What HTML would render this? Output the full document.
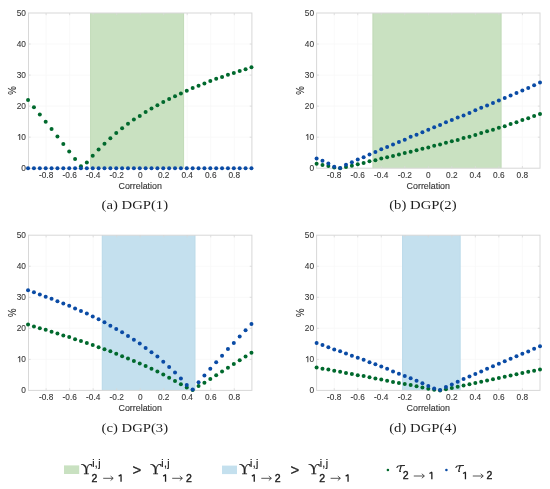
<!DOCTYPE html>
<html><head><meta charset="utf-8"><title>DGP figure</title>
<style>
html,body{margin:0;padding:0;background:#fff;}
body{width:550px;height:489px;overflow:hidden;position:relative;}
svg{position:absolute;left:0;top:0;will-change:transform;}
.tk{font-family:"Liberation Sans",sans-serif;font-size:8.3px;fill:#333333;stroke:#333333;stroke-width:0.08px;}
.lb{font-family:"Liberation Sans",sans-serif;font-size:8.9px;fill:#333333;stroke:#333333;stroke-width:0.12px;}
.cap{font-family:"Liberation Serif",serif;font-size:12.9px;fill:#1e1e1e;}
.lg{font-family:"Liberation Sans",sans-serif;fill:#222;}
.ls{font-family:"Liberation Serif",serif;fill:#222;}
</style></head>
<body>
<svg width="550" height="489" viewBox="0 0 550 489">
<line x1="46.14" y1="13" x2="46.14" y2="168.2" stroke="#f8f8f8" stroke-width="0.8"/>
<line x1="69.65" y1="13" x2="69.65" y2="168.2" stroke="#f8f8f8" stroke-width="0.8"/>
<line x1="93.17" y1="13" x2="93.17" y2="168.2" stroke="#f8f8f8" stroke-width="0.8"/>
<line x1="116.68" y1="13" x2="116.68" y2="168.2" stroke="#f8f8f8" stroke-width="0.8"/>
<line x1="140.2" y1="13" x2="140.2" y2="168.2" stroke="#f8f8f8" stroke-width="0.8"/>
<line x1="163.72" y1="13" x2="163.72" y2="168.2" stroke="#f8f8f8" stroke-width="0.8"/>
<line x1="187.23" y1="13" x2="187.23" y2="168.2" stroke="#f8f8f8" stroke-width="0.8"/>
<line x1="210.75" y1="13" x2="210.75" y2="168.2" stroke="#f8f8f8" stroke-width="0.8"/>
<line x1="234.26" y1="13" x2="234.26" y2="168.2" stroke="#f8f8f8" stroke-width="0.8"/>
<line x1="28.5" y1="137.16" x2="251.9" y2="137.16" stroke="#f8f8f8" stroke-width="0.8"/>
<line x1="28.5" y1="106.12" x2="251.9" y2="106.12" stroke="#f8f8f8" stroke-width="0.8"/>
<line x1="28.5" y1="75.08" x2="251.9" y2="75.08" stroke="#f8f8f8" stroke-width="0.8"/>
<line x1="28.5" y1="44.04" x2="251.9" y2="44.04" stroke="#f8f8f8" stroke-width="0.8"/>
<rect x="90" y="13" width="94.1" height="155.2" fill="#c9e1c1"/>
<line x1="90.6" y1="13" x2="90.6" y2="168.2" stroke="#c1dbb9" stroke-width="0.8"/>
<line x1="183.5" y1="13" x2="183.5" y2="168.2" stroke="#c1dbb9" stroke-width="0.8"/>
<rect x="28.5" y="13" width="223.4" height="155.2" fill="none" stroke="#d8d8d8" stroke-width="1"/>
<line x1="46.14" y1="168.2" x2="46.14" y2="166" stroke="#d8d8d8" stroke-width="0.8"/>
<line x1="46.14" y1="13" x2="46.14" y2="15.2" stroke="#d8d8d8" stroke-width="0.8"/>
<line x1="69.65" y1="168.2" x2="69.65" y2="166" stroke="#d8d8d8" stroke-width="0.8"/>
<line x1="69.65" y1="13" x2="69.65" y2="15.2" stroke="#d8d8d8" stroke-width="0.8"/>
<line x1="93.17" y1="168.2" x2="93.17" y2="166" stroke="#d8d8d8" stroke-width="0.8"/>
<line x1="93.17" y1="13" x2="93.17" y2="15.2" stroke="#d8d8d8" stroke-width="0.8"/>
<line x1="116.68" y1="168.2" x2="116.68" y2="166" stroke="#d8d8d8" stroke-width="0.8"/>
<line x1="116.68" y1="13" x2="116.68" y2="15.2" stroke="#d8d8d8" stroke-width="0.8"/>
<line x1="140.2" y1="168.2" x2="140.2" y2="166" stroke="#d8d8d8" stroke-width="0.8"/>
<line x1="140.2" y1="13" x2="140.2" y2="15.2" stroke="#d8d8d8" stroke-width="0.8"/>
<line x1="163.72" y1="168.2" x2="163.72" y2="166" stroke="#d8d8d8" stroke-width="0.8"/>
<line x1="163.72" y1="13" x2="163.72" y2="15.2" stroke="#d8d8d8" stroke-width="0.8"/>
<line x1="187.23" y1="168.2" x2="187.23" y2="166" stroke="#d8d8d8" stroke-width="0.8"/>
<line x1="187.23" y1="13" x2="187.23" y2="15.2" stroke="#d8d8d8" stroke-width="0.8"/>
<line x1="210.75" y1="168.2" x2="210.75" y2="166" stroke="#d8d8d8" stroke-width="0.8"/>
<line x1="210.75" y1="13" x2="210.75" y2="15.2" stroke="#d8d8d8" stroke-width="0.8"/>
<line x1="234.26" y1="168.2" x2="234.26" y2="166" stroke="#d8d8d8" stroke-width="0.8"/>
<line x1="234.26" y1="13" x2="234.26" y2="15.2" stroke="#d8d8d8" stroke-width="0.8"/>
<line x1="28.5" y1="137.16" x2="30.7" y2="137.16" stroke="#d8d8d8" stroke-width="0.8"/>
<line x1="251.9" y1="137.16" x2="249.7" y2="137.16" stroke="#d8d8d8" stroke-width="0.8"/>
<line x1="28.5" y1="106.12" x2="30.7" y2="106.12" stroke="#d8d8d8" stroke-width="0.8"/>
<line x1="251.9" y1="106.12" x2="249.7" y2="106.12" stroke="#d8d8d8" stroke-width="0.8"/>
<line x1="28.5" y1="75.08" x2="30.7" y2="75.08" stroke="#d8d8d8" stroke-width="0.8"/>
<line x1="251.9" y1="75.08" x2="249.7" y2="75.08" stroke="#d8d8d8" stroke-width="0.8"/>
<line x1="28.5" y1="44.04" x2="30.7" y2="44.04" stroke="#d8d8d8" stroke-width="0.8"/>
<line x1="251.9" y1="44.04" x2="249.7" y2="44.04" stroke="#d8d8d8" stroke-width="0.8"/>
<circle cx="28.05" cy="99.91" r="2" fill="#00692d"/>
<circle cx="33.93" cy="107.36" r="2" fill="#00692d"/>
<circle cx="39.81" cy="114.5" r="2" fill="#00692d"/>
<circle cx="45.69" cy="121.64" r="2" fill="#00692d"/>
<circle cx="51.57" cy="129.09" r="2" fill="#00692d"/>
<circle cx="57.44" cy="136.54" r="2" fill="#00692d"/>
<circle cx="63.32" cy="143.99" r="2" fill="#00692d"/>
<circle cx="69.2" cy="151.44" r="2" fill="#00692d"/>
<circle cx="75.08" cy="158.89" r="2" fill="#00692d"/>
<circle cx="80.96" cy="166.21" r="2" fill="#00692d"/>
<circle cx="86.84" cy="162.61" r="2" fill="#00692d"/>
<circle cx="92.72" cy="155.78" r="2" fill="#00692d"/>
<circle cx="98.6" cy="149.58" r="2" fill="#00692d"/>
<circle cx="104.48" cy="143.68" r="2" fill="#00692d"/>
<circle cx="110.36" cy="138.25" r="2" fill="#00692d"/>
<circle cx="116.23" cy="133.12" r="2" fill="#00692d"/>
<circle cx="122.11" cy="128.16" r="2" fill="#00692d"/>
<circle cx="127.99" cy="123.81" r="2" fill="#00692d"/>
<circle cx="133.87" cy="119.47" r="2" fill="#00692d"/>
<circle cx="139.75" cy="116.05" r="2" fill="#00692d"/>
<circle cx="145.63" cy="112.02" r="2" fill="#00692d"/>
<circle cx="151.51" cy="108.6" r="2" fill="#00692d"/>
<circle cx="157.39" cy="105.19" r="2" fill="#00692d"/>
<circle cx="163.27" cy="102.08" r="2" fill="#00692d"/>
<circle cx="169.14" cy="98.98" r="2" fill="#00692d"/>
<circle cx="175.02" cy="96.19" r="2" fill="#00692d"/>
<circle cx="180.9" cy="93.39" r="2" fill="#00692d"/>
<circle cx="186.78" cy="90.76" r="2" fill="#00692d"/>
<circle cx="192.66" cy="88.12" r="2" fill="#00692d"/>
<circle cx="198.54" cy="85.63" r="2" fill="#00692d"/>
<circle cx="204.42" cy="83.46" r="2" fill="#00692d"/>
<circle cx="210.3" cy="80.98" r="2" fill="#00692d"/>
<circle cx="216.18" cy="78.8" r="2" fill="#00692d"/>
<circle cx="222.06" cy="76.94" r="2" fill="#00692d"/>
<circle cx="227.93" cy="74.77" r="2" fill="#00692d"/>
<circle cx="233.81" cy="72.91" r="2" fill="#00692d"/>
<circle cx="239.69" cy="71.04" r="2" fill="#00692d"/>
<circle cx="245.57" cy="69.18" r="2" fill="#00692d"/>
<circle cx="251.45" cy="67.32" r="2" fill="#00692d"/>
<circle cx="28.05" cy="168.2" r="2" fill="#0a4ba5"/>
<circle cx="33.93" cy="168.2" r="2" fill="#0a4ba5"/>
<circle cx="39.81" cy="168.2" r="2" fill="#0a4ba5"/>
<circle cx="45.69" cy="168.2" r="2" fill="#0a4ba5"/>
<circle cx="51.57" cy="168.2" r="2" fill="#0a4ba5"/>
<circle cx="57.44" cy="168.2" r="2" fill="#0a4ba5"/>
<circle cx="63.32" cy="168.2" r="2" fill="#0a4ba5"/>
<circle cx="69.2" cy="168.2" r="2" fill="#0a4ba5"/>
<circle cx="75.08" cy="168.2" r="2" fill="#0a4ba5"/>
<circle cx="80.96" cy="168.2" r="2" fill="#0a4ba5"/>
<circle cx="86.84" cy="168.2" r="2" fill="#0a4ba5"/>
<circle cx="92.72" cy="168.2" r="2" fill="#0a4ba5"/>
<circle cx="98.6" cy="168.2" r="2" fill="#0a4ba5"/>
<circle cx="104.48" cy="168.2" r="2" fill="#0a4ba5"/>
<circle cx="110.36" cy="168.2" r="2" fill="#0a4ba5"/>
<circle cx="116.23" cy="168.2" r="2" fill="#0a4ba5"/>
<circle cx="122.11" cy="168.2" r="2" fill="#0a4ba5"/>
<circle cx="127.99" cy="168.2" r="2" fill="#0a4ba5"/>
<circle cx="133.87" cy="168.2" r="2" fill="#0a4ba5"/>
<circle cx="139.75" cy="168.2" r="2" fill="#0a4ba5"/>
<circle cx="145.63" cy="168.2" r="2" fill="#0a4ba5"/>
<circle cx="151.51" cy="168.2" r="2" fill="#0a4ba5"/>
<circle cx="157.39" cy="168.2" r="2" fill="#0a4ba5"/>
<circle cx="163.27" cy="168.2" r="2" fill="#0a4ba5"/>
<circle cx="169.14" cy="168.2" r="2" fill="#0a4ba5"/>
<circle cx="175.02" cy="168.2" r="2" fill="#0a4ba5"/>
<circle cx="180.9" cy="168.2" r="2" fill="#0a4ba5"/>
<circle cx="186.78" cy="168.2" r="2" fill="#0a4ba5"/>
<circle cx="192.66" cy="168.2" r="2" fill="#0a4ba5"/>
<circle cx="198.54" cy="168.2" r="2" fill="#0a4ba5"/>
<circle cx="204.42" cy="168.2" r="2" fill="#0a4ba5"/>
<circle cx="210.3" cy="168.2" r="2" fill="#0a4ba5"/>
<circle cx="216.18" cy="168.2" r="2" fill="#0a4ba5"/>
<circle cx="222.06" cy="168.2" r="2" fill="#0a4ba5"/>
<circle cx="227.93" cy="168.2" r="2" fill="#0a4ba5"/>
<circle cx="233.81" cy="168.2" r="2" fill="#0a4ba5"/>
<circle cx="239.69" cy="168.2" r="2" fill="#0a4ba5"/>
<circle cx="245.57" cy="168.2" r="2" fill="#0a4ba5"/>
<circle cx="251.45" cy="168.2" r="2" fill="#0a4ba5"/>
<text x="25.9" y="171.05" class="tk" text-anchor="end">0</text>
<text x="25.9" y="140.01" class="tk" text-anchor="end">0</text>
<path d="M19.75 140.01 V134.46 M20.05 134.26 L17.85 135.56" fill="none" stroke="#333333" stroke-width="0.95" stroke-linejoin="round"/>
<text x="25.9" y="108.97" class="tk" text-anchor="end">20</text>
<text x="25.9" y="77.93" class="tk" text-anchor="end">30</text>
<text x="25.9" y="46.89" class="tk" text-anchor="end">40</text>
<text x="25.9" y="15.85" class="tk" text-anchor="end">50</text>
<text x="46.14" y="178.2" class="tk" text-anchor="middle">-0.8</text>
<text x="69.65" y="178.2" class="tk" text-anchor="middle">-0.6</text>
<text x="93.17" y="178.2" class="tk" text-anchor="middle">-0.4</text>
<text x="116.68" y="178.2" class="tk" text-anchor="middle">-0.2</text>
<text x="140.2" y="178.2" class="tk" text-anchor="middle">0</text>
<text x="163.72" y="178.2" class="tk" text-anchor="middle">0.2</text>
<text x="187.23" y="178.2" class="tk" text-anchor="middle">0.4</text>
<text x="210.75" y="178.2" class="tk" text-anchor="middle">0.6</text>
<text x="234.26" y="178.2" class="tk" text-anchor="middle">0.8</text>
<text x="140.2" y="188.7" class="lb" text-anchor="middle">Correlation</text>
<text class="lb" text-anchor="middle" style="font-size:9.6px" transform="translate(15.6,90.6) rotate(-90) scale(1,1.1)">%</text>
<text class="cap" text-anchor="middle" transform="translate(134.8,209.4) scale(1.14,1)">(a) DGP(1)</text>
<line x1="334.24" y1="13" x2="334.24" y2="168.2" stroke="#f8f8f8" stroke-width="0.8"/>
<line x1="357.75" y1="13" x2="357.75" y2="168.2" stroke="#f8f8f8" stroke-width="0.8"/>
<line x1="381.27" y1="13" x2="381.27" y2="168.2" stroke="#f8f8f8" stroke-width="0.8"/>
<line x1="404.78" y1="13" x2="404.78" y2="168.2" stroke="#f8f8f8" stroke-width="0.8"/>
<line x1="428.3" y1="13" x2="428.3" y2="168.2" stroke="#f8f8f8" stroke-width="0.8"/>
<line x1="451.82" y1="13" x2="451.82" y2="168.2" stroke="#f8f8f8" stroke-width="0.8"/>
<line x1="475.33" y1="13" x2="475.33" y2="168.2" stroke="#f8f8f8" stroke-width="0.8"/>
<line x1="498.85" y1="13" x2="498.85" y2="168.2" stroke="#f8f8f8" stroke-width="0.8"/>
<line x1="522.36" y1="13" x2="522.36" y2="168.2" stroke="#f8f8f8" stroke-width="0.8"/>
<line x1="316.6" y1="137.16" x2="540" y2="137.16" stroke="#f8f8f8" stroke-width="0.8"/>
<line x1="316.6" y1="106.12" x2="540" y2="106.12" stroke="#f8f8f8" stroke-width="0.8"/>
<line x1="316.6" y1="75.08" x2="540" y2="75.08" stroke="#f8f8f8" stroke-width="0.8"/>
<line x1="316.6" y1="44.04" x2="540" y2="44.04" stroke="#f8f8f8" stroke-width="0.8"/>
<rect x="372.5" y="13" width="129" height="155.2" fill="#c9e1c1"/>
<line x1="373.1" y1="13" x2="373.1" y2="168.2" stroke="#c1dbb9" stroke-width="0.8"/>
<line x1="500.9" y1="13" x2="500.9" y2="168.2" stroke="#c1dbb9" stroke-width="0.8"/>
<rect x="316.6" y="13" width="223.4" height="155.2" fill="none" stroke="#d8d8d8" stroke-width="1"/>
<line x1="334.24" y1="168.2" x2="334.24" y2="166" stroke="#d8d8d8" stroke-width="0.8"/>
<line x1="334.24" y1="13" x2="334.24" y2="15.2" stroke="#d8d8d8" stroke-width="0.8"/>
<line x1="357.75" y1="168.2" x2="357.75" y2="166" stroke="#d8d8d8" stroke-width="0.8"/>
<line x1="357.75" y1="13" x2="357.75" y2="15.2" stroke="#d8d8d8" stroke-width="0.8"/>
<line x1="381.27" y1="168.2" x2="381.27" y2="166" stroke="#d8d8d8" stroke-width="0.8"/>
<line x1="381.27" y1="13" x2="381.27" y2="15.2" stroke="#d8d8d8" stroke-width="0.8"/>
<line x1="404.78" y1="168.2" x2="404.78" y2="166" stroke="#d8d8d8" stroke-width="0.8"/>
<line x1="404.78" y1="13" x2="404.78" y2="15.2" stroke="#d8d8d8" stroke-width="0.8"/>
<line x1="428.3" y1="168.2" x2="428.3" y2="166" stroke="#d8d8d8" stroke-width="0.8"/>
<line x1="428.3" y1="13" x2="428.3" y2="15.2" stroke="#d8d8d8" stroke-width="0.8"/>
<line x1="451.82" y1="168.2" x2="451.82" y2="166" stroke="#d8d8d8" stroke-width="0.8"/>
<line x1="451.82" y1="13" x2="451.82" y2="15.2" stroke="#d8d8d8" stroke-width="0.8"/>
<line x1="475.33" y1="168.2" x2="475.33" y2="166" stroke="#d8d8d8" stroke-width="0.8"/>
<line x1="475.33" y1="13" x2="475.33" y2="15.2" stroke="#d8d8d8" stroke-width="0.8"/>
<line x1="498.85" y1="168.2" x2="498.85" y2="166" stroke="#d8d8d8" stroke-width="0.8"/>
<line x1="498.85" y1="13" x2="498.85" y2="15.2" stroke="#d8d8d8" stroke-width="0.8"/>
<line x1="522.36" y1="168.2" x2="522.36" y2="166" stroke="#d8d8d8" stroke-width="0.8"/>
<line x1="522.36" y1="13" x2="522.36" y2="15.2" stroke="#d8d8d8" stroke-width="0.8"/>
<line x1="316.6" y1="137.16" x2="318.8" y2="137.16" stroke="#d8d8d8" stroke-width="0.8"/>
<line x1="540" y1="137.16" x2="537.8" y2="137.16" stroke="#d8d8d8" stroke-width="0.8"/>
<line x1="316.6" y1="106.12" x2="318.8" y2="106.12" stroke="#d8d8d8" stroke-width="0.8"/>
<line x1="540" y1="106.12" x2="537.8" y2="106.12" stroke="#d8d8d8" stroke-width="0.8"/>
<line x1="316.6" y1="75.08" x2="318.8" y2="75.08" stroke="#d8d8d8" stroke-width="0.8"/>
<line x1="540" y1="75.08" x2="537.8" y2="75.08" stroke="#d8d8d8" stroke-width="0.8"/>
<line x1="316.6" y1="44.04" x2="318.8" y2="44.04" stroke="#d8d8d8" stroke-width="0.8"/>
<line x1="540" y1="44.04" x2="537.8" y2="44.04" stroke="#d8d8d8" stroke-width="0.8"/>
<circle cx="316.6" cy="163.7" r="2" fill="#00692d"/>
<circle cx="322.48" cy="165.1" r="2" fill="#00692d"/>
<circle cx="328.36" cy="166.03" r="2" fill="#00692d"/>
<circle cx="334.24" cy="167.42" r="2" fill="#00692d"/>
<circle cx="340.12" cy="168.2" r="2" fill="#00692d"/>
<circle cx="345.99" cy="166.96" r="2" fill="#00692d"/>
<circle cx="351.87" cy="165.72" r="2" fill="#00692d"/>
<circle cx="357.75" cy="164.16" r="2" fill="#00692d"/>
<circle cx="363.63" cy="162.92" r="2" fill="#00692d"/>
<circle cx="369.51" cy="161.37" r="2" fill="#00692d"/>
<circle cx="375.39" cy="160.13" r="2" fill="#00692d"/>
<circle cx="381.27" cy="158.58" r="2" fill="#00692d"/>
<circle cx="387.15" cy="157.34" r="2" fill="#00692d"/>
<circle cx="393.03" cy="156.09" r="2" fill="#00692d"/>
<circle cx="398.91" cy="154.39" r="2" fill="#00692d"/>
<circle cx="404.78" cy="152.99" r="2" fill="#00692d"/>
<circle cx="410.66" cy="151.75" r="2" fill="#00692d"/>
<circle cx="416.54" cy="150.2" r="2" fill="#00692d"/>
<circle cx="422.42" cy="148.64" r="2" fill="#00692d"/>
<circle cx="428.3" cy="147.4" r="2" fill="#00692d"/>
<circle cx="434.18" cy="145.85" r="2" fill="#00692d"/>
<circle cx="440.06" cy="144.61" r="2" fill="#00692d"/>
<circle cx="445.94" cy="142.75" r="2" fill="#00692d"/>
<circle cx="451.82" cy="141.2" r="2" fill="#00692d"/>
<circle cx="457.69" cy="139.95" r="2" fill="#00692d"/>
<circle cx="463.57" cy="138.09" r="2" fill="#00692d"/>
<circle cx="469.45" cy="136.69" r="2" fill="#00692d"/>
<circle cx="475.33" cy="134.99" r="2" fill="#00692d"/>
<circle cx="481.21" cy="133.12" r="2" fill="#00692d"/>
<circle cx="487.09" cy="131.26" r="2" fill="#00692d"/>
<circle cx="492.97" cy="129.71" r="2" fill="#00692d"/>
<circle cx="498.85" cy="127.85" r="2" fill="#00692d"/>
<circle cx="504.73" cy="126.3" r="2" fill="#00692d"/>
<circle cx="510.61" cy="124.12" r="2" fill="#00692d"/>
<circle cx="516.48" cy="122.26" r="2" fill="#00692d"/>
<circle cx="522.36" cy="120.09" r="2" fill="#00692d"/>
<circle cx="528.24" cy="118.23" r="2" fill="#00692d"/>
<circle cx="534.12" cy="116.05" r="2" fill="#00692d"/>
<circle cx="540" cy="113.88" r="2" fill="#00692d"/>
<circle cx="316.6" cy="158.58" r="2" fill="#0a4ba5"/>
<circle cx="322.48" cy="160.75" r="2" fill="#0a4ba5"/>
<circle cx="328.36" cy="163.54" r="2" fill="#0a4ba5"/>
<circle cx="334.24" cy="166.65" r="2" fill="#0a4ba5"/>
<circle cx="340.12" cy="167.89" r="2" fill="#0a4ba5"/>
<circle cx="345.99" cy="164.79" r="2" fill="#0a4ba5"/>
<circle cx="351.87" cy="162.3" r="2" fill="#0a4ba5"/>
<circle cx="357.75" cy="159.51" r="2" fill="#0a4ba5"/>
<circle cx="363.63" cy="157.34" r="2" fill="#0a4ba5"/>
<circle cx="369.51" cy="154.54" r="2" fill="#0a4ba5"/>
<circle cx="375.39" cy="152.06" r="2" fill="#0a4ba5"/>
<circle cx="381.27" cy="149.27" r="2" fill="#0a4ba5"/>
<circle cx="387.15" cy="147.09" r="2" fill="#0a4ba5"/>
<circle cx="393.03" cy="144.45" r="2" fill="#0a4ba5"/>
<circle cx="398.91" cy="141.97" r="2" fill="#0a4ba5"/>
<circle cx="404.78" cy="139.64" r="2" fill="#0a4ba5"/>
<circle cx="410.66" cy="136.85" r="2" fill="#0a4ba5"/>
<circle cx="416.54" cy="134.68" r="2" fill="#0a4ba5"/>
<circle cx="422.42" cy="132.19" r="2" fill="#0a4ba5"/>
<circle cx="428.3" cy="129.71" r="2" fill="#0a4ba5"/>
<circle cx="434.18" cy="127.23" r="2" fill="#0a4ba5"/>
<circle cx="440.06" cy="125.05" r="2" fill="#0a4ba5"/>
<circle cx="445.94" cy="122.26" r="2" fill="#0a4ba5"/>
<circle cx="451.82" cy="120.09" r="2" fill="#0a4ba5"/>
<circle cx="457.69" cy="117.6" r="2" fill="#0a4ba5"/>
<circle cx="463.57" cy="115.43" r="2" fill="#0a4ba5"/>
<circle cx="469.45" cy="112.95" r="2" fill="#0a4ba5"/>
<circle cx="475.33" cy="110.16" r="2" fill="#0a4ba5"/>
<circle cx="481.21" cy="107.67" r="2" fill="#0a4ba5"/>
<circle cx="487.09" cy="105.5" r="2" fill="#0a4ba5"/>
<circle cx="492.97" cy="103.02" r="2" fill="#0a4ba5"/>
<circle cx="498.85" cy="100.53" r="2" fill="#0a4ba5"/>
<circle cx="504.73" cy="98.05" r="2" fill="#0a4ba5"/>
<circle cx="510.61" cy="95.57" r="2" fill="#0a4ba5"/>
<circle cx="516.48" cy="93.08" r="2" fill="#0a4ba5"/>
<circle cx="522.36" cy="90.6" r="2" fill="#0a4ba5"/>
<circle cx="528.24" cy="88.12" r="2" fill="#0a4ba5"/>
<circle cx="534.12" cy="85.32" r="2" fill="#0a4ba5"/>
<circle cx="540" cy="82.53" r="2" fill="#0a4ba5"/>
<text x="314" y="171.05" class="tk" text-anchor="end">0</text>
<text x="314" y="140.01" class="tk" text-anchor="end">0</text>
<path d="M307.85 140.01 V134.46 M308.15 134.26 L305.95 135.56" fill="none" stroke="#333333" stroke-width="0.95" stroke-linejoin="round"/>
<text x="314" y="108.97" class="tk" text-anchor="end">20</text>
<text x="314" y="77.93" class="tk" text-anchor="end">30</text>
<text x="314" y="46.89" class="tk" text-anchor="end">40</text>
<text x="314" y="15.85" class="tk" text-anchor="end">50</text>
<text x="334.24" y="178.2" class="tk" text-anchor="middle">-0.8</text>
<text x="357.75" y="178.2" class="tk" text-anchor="middle">-0.6</text>
<text x="381.27" y="178.2" class="tk" text-anchor="middle">-0.4</text>
<text x="404.78" y="178.2" class="tk" text-anchor="middle">-0.2</text>
<text x="428.3" y="178.2" class="tk" text-anchor="middle">0</text>
<text x="451.82" y="178.2" class="tk" text-anchor="middle">0.2</text>
<text x="475.33" y="178.2" class="tk" text-anchor="middle">0.4</text>
<text x="498.85" y="178.2" class="tk" text-anchor="middle">0.6</text>
<text x="522.36" y="178.2" class="tk" text-anchor="middle">0.8</text>
<text x="428.3" y="188.7" class="lb" text-anchor="middle">Correlation</text>
<text class="lb" text-anchor="middle" style="font-size:9.6px" transform="translate(303.7,90.6) rotate(-90) scale(1,1.1)">%</text>
<text class="cap" text-anchor="middle" transform="translate(422.9,209.4) scale(1.14,1)">(b) DGP(2)</text>
<line x1="46.14" y1="235.2" x2="46.14" y2="390.4" stroke="#f8f8f8" stroke-width="0.8"/>
<line x1="69.65" y1="235.2" x2="69.65" y2="390.4" stroke="#f8f8f8" stroke-width="0.8"/>
<line x1="93.17" y1="235.2" x2="93.17" y2="390.4" stroke="#f8f8f8" stroke-width="0.8"/>
<line x1="116.68" y1="235.2" x2="116.68" y2="390.4" stroke="#f8f8f8" stroke-width="0.8"/>
<line x1="140.2" y1="235.2" x2="140.2" y2="390.4" stroke="#f8f8f8" stroke-width="0.8"/>
<line x1="163.72" y1="235.2" x2="163.72" y2="390.4" stroke="#f8f8f8" stroke-width="0.8"/>
<line x1="187.23" y1="235.2" x2="187.23" y2="390.4" stroke="#f8f8f8" stroke-width="0.8"/>
<line x1="210.75" y1="235.2" x2="210.75" y2="390.4" stroke="#f8f8f8" stroke-width="0.8"/>
<line x1="234.26" y1="235.2" x2="234.26" y2="390.4" stroke="#f8f8f8" stroke-width="0.8"/>
<line x1="28.5" y1="359.36" x2="251.9" y2="359.36" stroke="#f8f8f8" stroke-width="0.8"/>
<line x1="28.5" y1="328.32" x2="251.9" y2="328.32" stroke="#f8f8f8" stroke-width="0.8"/>
<line x1="28.5" y1="297.28" x2="251.9" y2="297.28" stroke="#f8f8f8" stroke-width="0.8"/>
<line x1="28.5" y1="266.24" x2="251.9" y2="266.24" stroke="#f8f8f8" stroke-width="0.8"/>
<rect x="101.8" y="235.2" width="93.6" height="155.2" fill="#c4e0ee"/>
<line x1="102.4" y1="235.2" x2="102.4" y2="390.4" stroke="#bcdbea" stroke-width="0.8"/>
<line x1="194.8" y1="235.2" x2="194.8" y2="390.4" stroke="#bcdbea" stroke-width="0.8"/>
<rect x="28.5" y="235.2" width="223.4" height="155.2" fill="none" stroke="#d8d8d8" stroke-width="1"/>
<line x1="46.14" y1="390.4" x2="46.14" y2="388.2" stroke="#d8d8d8" stroke-width="0.8"/>
<line x1="46.14" y1="235.2" x2="46.14" y2="237.4" stroke="#d8d8d8" stroke-width="0.8"/>
<line x1="69.65" y1="390.4" x2="69.65" y2="388.2" stroke="#d8d8d8" stroke-width="0.8"/>
<line x1="69.65" y1="235.2" x2="69.65" y2="237.4" stroke="#d8d8d8" stroke-width="0.8"/>
<line x1="93.17" y1="390.4" x2="93.17" y2="388.2" stroke="#d8d8d8" stroke-width="0.8"/>
<line x1="93.17" y1="235.2" x2="93.17" y2="237.4" stroke="#d8d8d8" stroke-width="0.8"/>
<line x1="116.68" y1="390.4" x2="116.68" y2="388.2" stroke="#d8d8d8" stroke-width="0.8"/>
<line x1="116.68" y1="235.2" x2="116.68" y2="237.4" stroke="#d8d8d8" stroke-width="0.8"/>
<line x1="140.2" y1="390.4" x2="140.2" y2="388.2" stroke="#d8d8d8" stroke-width="0.8"/>
<line x1="140.2" y1="235.2" x2="140.2" y2="237.4" stroke="#d8d8d8" stroke-width="0.8"/>
<line x1="163.72" y1="390.4" x2="163.72" y2="388.2" stroke="#d8d8d8" stroke-width="0.8"/>
<line x1="163.72" y1="235.2" x2="163.72" y2="237.4" stroke="#d8d8d8" stroke-width="0.8"/>
<line x1="187.23" y1="390.4" x2="187.23" y2="388.2" stroke="#d8d8d8" stroke-width="0.8"/>
<line x1="187.23" y1="235.2" x2="187.23" y2="237.4" stroke="#d8d8d8" stroke-width="0.8"/>
<line x1="210.75" y1="390.4" x2="210.75" y2="388.2" stroke="#d8d8d8" stroke-width="0.8"/>
<line x1="210.75" y1="235.2" x2="210.75" y2="237.4" stroke="#d8d8d8" stroke-width="0.8"/>
<line x1="234.26" y1="390.4" x2="234.26" y2="388.2" stroke="#d8d8d8" stroke-width="0.8"/>
<line x1="234.26" y1="235.2" x2="234.26" y2="237.4" stroke="#d8d8d8" stroke-width="0.8"/>
<line x1="28.5" y1="359.36" x2="30.7" y2="359.36" stroke="#d8d8d8" stroke-width="0.8"/>
<line x1="251.9" y1="359.36" x2="249.7" y2="359.36" stroke="#d8d8d8" stroke-width="0.8"/>
<line x1="28.5" y1="328.32" x2="30.7" y2="328.32" stroke="#d8d8d8" stroke-width="0.8"/>
<line x1="251.9" y1="328.32" x2="249.7" y2="328.32" stroke="#d8d8d8" stroke-width="0.8"/>
<line x1="28.5" y1="297.28" x2="30.7" y2="297.28" stroke="#d8d8d8" stroke-width="0.8"/>
<line x1="251.9" y1="297.28" x2="249.7" y2="297.28" stroke="#d8d8d8" stroke-width="0.8"/>
<line x1="28.5" y1="266.24" x2="30.7" y2="266.24" stroke="#d8d8d8" stroke-width="0.8"/>
<line x1="251.9" y1="266.24" x2="249.7" y2="266.24" stroke="#d8d8d8" stroke-width="0.8"/>
<circle cx="28.05" cy="324.6" r="2" fill="#00692d"/>
<circle cx="33.93" cy="326.46" r="2" fill="#00692d"/>
<circle cx="39.81" cy="328.32" r="2" fill="#00692d"/>
<circle cx="45.69" cy="329.87" r="2" fill="#00692d"/>
<circle cx="51.57" cy="331.73" r="2" fill="#00692d"/>
<circle cx="57.44" cy="333.6" r="2" fill="#00692d"/>
<circle cx="63.32" cy="335.46" r="2" fill="#00692d"/>
<circle cx="69.2" cy="337.01" r="2" fill="#00692d"/>
<circle cx="75.08" cy="339.18" r="2" fill="#00692d"/>
<circle cx="80.96" cy="341.05" r="2" fill="#00692d"/>
<circle cx="86.84" cy="342.91" r="2" fill="#00692d"/>
<circle cx="92.72" cy="345.08" r="2" fill="#00692d"/>
<circle cx="98.6" cy="347.25" r="2" fill="#00692d"/>
<circle cx="104.48" cy="349.27" r="2" fill="#00692d"/>
<circle cx="110.36" cy="351.29" r="2" fill="#00692d"/>
<circle cx="116.23" cy="353.77" r="2" fill="#00692d"/>
<circle cx="122.11" cy="356.26" r="2" fill="#00692d"/>
<circle cx="127.99" cy="358.43" r="2" fill="#00692d"/>
<circle cx="133.87" cy="360.91" r="2" fill="#00692d"/>
<circle cx="139.75" cy="363.4" r="2" fill="#00692d"/>
<circle cx="145.63" cy="365.88" r="2" fill="#00692d"/>
<circle cx="151.51" cy="368.67" r="2" fill="#00692d"/>
<circle cx="157.39" cy="371.47" r="2" fill="#00692d"/>
<circle cx="163.27" cy="374.57" r="2" fill="#00692d"/>
<circle cx="169.14" cy="377.67" r="2" fill="#00692d"/>
<circle cx="175.02" cy="380.93" r="2" fill="#00692d"/>
<circle cx="180.9" cy="384.35" r="2" fill="#00692d"/>
<circle cx="186.78" cy="387.61" r="2" fill="#00692d"/>
<circle cx="192.66" cy="390.09" r="2" fill="#00692d"/>
<circle cx="198.54" cy="386.05" r="2" fill="#00692d"/>
<circle cx="204.42" cy="382.64" r="2" fill="#00692d"/>
<circle cx="210.3" cy="378.92" r="2" fill="#00692d"/>
<circle cx="216.18" cy="375.19" r="2" fill="#00692d"/>
<circle cx="222.06" cy="371.47" r="2" fill="#00692d"/>
<circle cx="227.93" cy="367.74" r="2" fill="#00692d"/>
<circle cx="233.81" cy="364.02" r="2" fill="#00692d"/>
<circle cx="239.69" cy="360.29" r="2" fill="#00692d"/>
<circle cx="245.57" cy="356.57" r="2" fill="#00692d"/>
<circle cx="251.45" cy="352.84" r="2" fill="#00692d"/>
<circle cx="28.05" cy="290.14" r="2" fill="#0a4ba5"/>
<circle cx="33.93" cy="292.31" r="2" fill="#0a4ba5"/>
<circle cx="39.81" cy="294.49" r="2" fill="#0a4ba5"/>
<circle cx="45.69" cy="296.66" r="2" fill="#0a4ba5"/>
<circle cx="51.57" cy="298.83" r="2" fill="#0a4ba5"/>
<circle cx="57.44" cy="301.32" r="2" fill="#0a4ba5"/>
<circle cx="63.32" cy="303.49" r="2" fill="#0a4ba5"/>
<circle cx="69.2" cy="305.66" r="2" fill="#0a4ba5"/>
<circle cx="75.08" cy="308.45" r="2" fill="#0a4ba5"/>
<circle cx="80.96" cy="310.94" r="2" fill="#0a4ba5"/>
<circle cx="86.84" cy="313.42" r="2" fill="#0a4ba5"/>
<circle cx="92.72" cy="316.52" r="2" fill="#0a4ba5"/>
<circle cx="98.6" cy="319.32" r="2" fill="#0a4ba5"/>
<circle cx="104.48" cy="322.27" r="2" fill="#0a4ba5"/>
<circle cx="110.36" cy="325.84" r="2" fill="#0a4ba5"/>
<circle cx="116.23" cy="328.94" r="2" fill="#0a4ba5"/>
<circle cx="122.11" cy="332.36" r="2" fill="#0a4ba5"/>
<circle cx="127.99" cy="336.08" r="2" fill="#0a4ba5"/>
<circle cx="133.87" cy="339.8" r="2" fill="#0a4ba5"/>
<circle cx="139.75" cy="343.53" r="2" fill="#0a4ba5"/>
<circle cx="145.63" cy="347.88" r="2" fill="#0a4ba5"/>
<circle cx="151.51" cy="352.22" r="2" fill="#0a4ba5"/>
<circle cx="157.39" cy="356.57" r="2" fill="#0a4ba5"/>
<circle cx="163.27" cy="361.84" r="2" fill="#0a4ba5"/>
<circle cx="169.14" cy="366.96" r="2" fill="#0a4ba5"/>
<circle cx="175.02" cy="372.55" r="2" fill="#0a4ba5"/>
<circle cx="180.9" cy="378.6" r="2" fill="#0a4ba5"/>
<circle cx="186.78" cy="385.12" r="2" fill="#0a4ba5"/>
<circle cx="192.66" cy="389.47" r="2" fill="#0a4ba5"/>
<circle cx="198.54" cy="382.33" r="2" fill="#0a4ba5"/>
<circle cx="204.42" cy="375.5" r="2" fill="#0a4ba5"/>
<circle cx="210.3" cy="368.67" r="2" fill="#0a4ba5"/>
<circle cx="216.18" cy="362.15" r="2" fill="#0a4ba5"/>
<circle cx="222.06" cy="355.64" r="2" fill="#0a4ba5"/>
<circle cx="227.93" cy="349.12" r="2" fill="#0a4ba5"/>
<circle cx="233.81" cy="342.91" r="2" fill="#0a4ba5"/>
<circle cx="239.69" cy="336.39" r="2" fill="#0a4ba5"/>
<circle cx="245.57" cy="330.18" r="2" fill="#0a4ba5"/>
<circle cx="251.45" cy="323.97" r="2" fill="#0a4ba5"/>
<text x="25.9" y="393.25" class="tk" text-anchor="end">0</text>
<text x="25.9" y="362.21" class="tk" text-anchor="end">0</text>
<path d="M19.75 362.21 V356.66 M20.05 356.46 L17.85 357.76" fill="none" stroke="#333333" stroke-width="0.95" stroke-linejoin="round"/>
<text x="25.9" y="331.17" class="tk" text-anchor="end">20</text>
<text x="25.9" y="300.13" class="tk" text-anchor="end">30</text>
<text x="25.9" y="269.09" class="tk" text-anchor="end">40</text>
<text x="25.9" y="238.05" class="tk" text-anchor="end">50</text>
<text x="46.14" y="400.4" class="tk" text-anchor="middle">-0.8</text>
<text x="69.65" y="400.4" class="tk" text-anchor="middle">-0.6</text>
<text x="93.17" y="400.4" class="tk" text-anchor="middle">-0.4</text>
<text x="116.68" y="400.4" class="tk" text-anchor="middle">-0.2</text>
<text x="140.2" y="400.4" class="tk" text-anchor="middle">0</text>
<text x="163.72" y="400.4" class="tk" text-anchor="middle">0.2</text>
<text x="187.23" y="400.4" class="tk" text-anchor="middle">0.4</text>
<text x="210.75" y="400.4" class="tk" text-anchor="middle">0.6</text>
<text x="234.26" y="400.4" class="tk" text-anchor="middle">0.8</text>
<text x="140.2" y="410.9" class="lb" text-anchor="middle">Correlation</text>
<text class="lb" text-anchor="middle" style="font-size:9.6px" transform="translate(15.6,312.8) rotate(-90) scale(1,1.1)">%</text>
<text class="cap" text-anchor="middle" transform="translate(134.8,431.6) scale(1.14,1)">(c) DGP(3)</text>
<line x1="334.24" y1="235.2" x2="334.24" y2="390.4" stroke="#f8f8f8" stroke-width="0.8"/>
<line x1="357.75" y1="235.2" x2="357.75" y2="390.4" stroke="#f8f8f8" stroke-width="0.8"/>
<line x1="381.27" y1="235.2" x2="381.27" y2="390.4" stroke="#f8f8f8" stroke-width="0.8"/>
<line x1="404.78" y1="235.2" x2="404.78" y2="390.4" stroke="#f8f8f8" stroke-width="0.8"/>
<line x1="428.3" y1="235.2" x2="428.3" y2="390.4" stroke="#f8f8f8" stroke-width="0.8"/>
<line x1="451.82" y1="235.2" x2="451.82" y2="390.4" stroke="#f8f8f8" stroke-width="0.8"/>
<line x1="475.33" y1="235.2" x2="475.33" y2="390.4" stroke="#f8f8f8" stroke-width="0.8"/>
<line x1="498.85" y1="235.2" x2="498.85" y2="390.4" stroke="#f8f8f8" stroke-width="0.8"/>
<line x1="522.36" y1="235.2" x2="522.36" y2="390.4" stroke="#f8f8f8" stroke-width="0.8"/>
<line x1="316.6" y1="359.36" x2="540" y2="359.36" stroke="#f8f8f8" stroke-width="0.8"/>
<line x1="316.6" y1="328.32" x2="540" y2="328.32" stroke="#f8f8f8" stroke-width="0.8"/>
<line x1="316.6" y1="297.28" x2="540" y2="297.28" stroke="#f8f8f8" stroke-width="0.8"/>
<line x1="316.6" y1="266.24" x2="540" y2="266.24" stroke="#f8f8f8" stroke-width="0.8"/>
<rect x="402" y="235.2" width="58.6" height="155.2" fill="#c4e0ee"/>
<line x1="402.6" y1="235.2" x2="402.6" y2="390.4" stroke="#bcdbea" stroke-width="0.8"/>
<line x1="460" y1="235.2" x2="460" y2="390.4" stroke="#bcdbea" stroke-width="0.8"/>
<rect x="316.6" y="235.2" width="223.4" height="155.2" fill="none" stroke="#d8d8d8" stroke-width="1"/>
<line x1="334.24" y1="390.4" x2="334.24" y2="388.2" stroke="#d8d8d8" stroke-width="0.8"/>
<line x1="334.24" y1="235.2" x2="334.24" y2="237.4" stroke="#d8d8d8" stroke-width="0.8"/>
<line x1="357.75" y1="390.4" x2="357.75" y2="388.2" stroke="#d8d8d8" stroke-width="0.8"/>
<line x1="357.75" y1="235.2" x2="357.75" y2="237.4" stroke="#d8d8d8" stroke-width="0.8"/>
<line x1="381.27" y1="390.4" x2="381.27" y2="388.2" stroke="#d8d8d8" stroke-width="0.8"/>
<line x1="381.27" y1="235.2" x2="381.27" y2="237.4" stroke="#d8d8d8" stroke-width="0.8"/>
<line x1="404.78" y1="390.4" x2="404.78" y2="388.2" stroke="#d8d8d8" stroke-width="0.8"/>
<line x1="404.78" y1="235.2" x2="404.78" y2="237.4" stroke="#d8d8d8" stroke-width="0.8"/>
<line x1="428.3" y1="390.4" x2="428.3" y2="388.2" stroke="#d8d8d8" stroke-width="0.8"/>
<line x1="428.3" y1="235.2" x2="428.3" y2="237.4" stroke="#d8d8d8" stroke-width="0.8"/>
<line x1="451.82" y1="390.4" x2="451.82" y2="388.2" stroke="#d8d8d8" stroke-width="0.8"/>
<line x1="451.82" y1="235.2" x2="451.82" y2="237.4" stroke="#d8d8d8" stroke-width="0.8"/>
<line x1="475.33" y1="390.4" x2="475.33" y2="388.2" stroke="#d8d8d8" stroke-width="0.8"/>
<line x1="475.33" y1="235.2" x2="475.33" y2="237.4" stroke="#d8d8d8" stroke-width="0.8"/>
<line x1="498.85" y1="390.4" x2="498.85" y2="388.2" stroke="#d8d8d8" stroke-width="0.8"/>
<line x1="498.85" y1="235.2" x2="498.85" y2="237.4" stroke="#d8d8d8" stroke-width="0.8"/>
<line x1="522.36" y1="390.4" x2="522.36" y2="388.2" stroke="#d8d8d8" stroke-width="0.8"/>
<line x1="522.36" y1="235.2" x2="522.36" y2="237.4" stroke="#d8d8d8" stroke-width="0.8"/>
<line x1="316.6" y1="359.36" x2="318.8" y2="359.36" stroke="#d8d8d8" stroke-width="0.8"/>
<line x1="540" y1="359.36" x2="537.8" y2="359.36" stroke="#d8d8d8" stroke-width="0.8"/>
<line x1="316.6" y1="328.32" x2="318.8" y2="328.32" stroke="#d8d8d8" stroke-width="0.8"/>
<line x1="540" y1="328.32" x2="537.8" y2="328.32" stroke="#d8d8d8" stroke-width="0.8"/>
<line x1="316.6" y1="297.28" x2="318.8" y2="297.28" stroke="#d8d8d8" stroke-width="0.8"/>
<line x1="540" y1="297.28" x2="537.8" y2="297.28" stroke="#d8d8d8" stroke-width="0.8"/>
<line x1="316.6" y1="266.24" x2="318.8" y2="266.24" stroke="#d8d8d8" stroke-width="0.8"/>
<line x1="540" y1="266.24" x2="537.8" y2="266.24" stroke="#d8d8d8" stroke-width="0.8"/>
<circle cx="316.6" cy="367.43" r="2" fill="#00692d"/>
<circle cx="322.48" cy="368.67" r="2" fill="#00692d"/>
<circle cx="328.36" cy="369.6" r="2" fill="#00692d"/>
<circle cx="334.24" cy="370.84" r="2" fill="#00692d"/>
<circle cx="340.12" cy="371.78" r="2" fill="#00692d"/>
<circle cx="345.99" cy="373.02" r="2" fill="#00692d"/>
<circle cx="351.87" cy="373.95" r="2" fill="#00692d"/>
<circle cx="357.75" cy="375.19" r="2" fill="#00692d"/>
<circle cx="363.63" cy="376.12" r="2" fill="#00692d"/>
<circle cx="369.51" cy="377.36" r="2" fill="#00692d"/>
<circle cx="375.39" cy="378.6" r="2" fill="#00692d"/>
<circle cx="381.27" cy="379.54" r="2" fill="#00692d"/>
<circle cx="387.15" cy="380.78" r="2" fill="#00692d"/>
<circle cx="393.03" cy="382.02" r="2" fill="#00692d"/>
<circle cx="398.91" cy="382.95" r="2" fill="#00692d"/>
<circle cx="404.78" cy="383.88" r="2" fill="#00692d"/>
<circle cx="410.66" cy="385.12" r="2" fill="#00692d"/>
<circle cx="416.54" cy="386.36" r="2" fill="#00692d"/>
<circle cx="422.42" cy="387.45" r="2" fill="#00692d"/>
<circle cx="428.3" cy="388.85" r="2" fill="#00692d"/>
<circle cx="434.18" cy="389.78" r="2" fill="#00692d"/>
<circle cx="440.06" cy="390.4" r="2" fill="#00692d"/>
<circle cx="445.94" cy="389.16" r="2" fill="#00692d"/>
<circle cx="451.82" cy="387.92" r="2" fill="#00692d"/>
<circle cx="457.69" cy="386.68" r="2" fill="#00692d"/>
<circle cx="463.57" cy="385.43" r="2" fill="#00692d"/>
<circle cx="469.45" cy="384.19" r="2" fill="#00692d"/>
<circle cx="475.33" cy="382.95" r="2" fill="#00692d"/>
<circle cx="481.21" cy="381.71" r="2" fill="#00692d"/>
<circle cx="487.09" cy="380.47" r="2" fill="#00692d"/>
<circle cx="492.97" cy="379.23" r="2" fill="#00692d"/>
<circle cx="498.85" cy="377.98" r="2" fill="#00692d"/>
<circle cx="504.73" cy="376.74" r="2" fill="#00692d"/>
<circle cx="510.61" cy="375.5" r="2" fill="#00692d"/>
<circle cx="516.48" cy="374.26" r="2" fill="#00692d"/>
<circle cx="522.36" cy="373.02" r="2" fill="#00692d"/>
<circle cx="528.24" cy="371.78" r="2" fill="#00692d"/>
<circle cx="534.12" cy="370.84" r="2" fill="#00692d"/>
<circle cx="540" cy="369.6" r="2" fill="#00692d"/>
<circle cx="316.6" cy="342.91" r="2" fill="#0a4ba5"/>
<circle cx="322.48" cy="345.08" r="2" fill="#0a4ba5"/>
<circle cx="328.36" cy="347.25" r="2" fill="#0a4ba5"/>
<circle cx="334.24" cy="349.43" r="2" fill="#0a4ba5"/>
<circle cx="340.12" cy="351.29" r="2" fill="#0a4ba5"/>
<circle cx="345.99" cy="353.46" r="2" fill="#0a4ba5"/>
<circle cx="351.87" cy="355.64" r="2" fill="#0a4ba5"/>
<circle cx="357.75" cy="357.81" r="2" fill="#0a4ba5"/>
<circle cx="363.63" cy="359.67" r="2" fill="#0a4ba5"/>
<circle cx="369.51" cy="362.15" r="2" fill="#0a4ba5"/>
<circle cx="375.39" cy="364.33" r="2" fill="#0a4ba5"/>
<circle cx="381.27" cy="366.5" r="2" fill="#0a4ba5"/>
<circle cx="387.15" cy="368.67" r="2" fill="#0a4ba5"/>
<circle cx="393.03" cy="371.47" r="2" fill="#0a4ba5"/>
<circle cx="398.91" cy="373.64" r="2" fill="#0a4ba5"/>
<circle cx="404.78" cy="375.97" r="2" fill="#0a4ba5"/>
<circle cx="410.66" cy="378.29" r="2" fill="#0a4ba5"/>
<circle cx="416.54" cy="380.78" r="2" fill="#0a4ba5"/>
<circle cx="422.42" cy="383.26" r="2" fill="#0a4ba5"/>
<circle cx="428.3" cy="386.05" r="2" fill="#0a4ba5"/>
<circle cx="434.18" cy="388.54" r="2" fill="#0a4ba5"/>
<circle cx="440.06" cy="390.09" r="2" fill="#0a4ba5"/>
<circle cx="445.94" cy="386.99" r="2" fill="#0a4ba5"/>
<circle cx="451.82" cy="384.5" r="2" fill="#0a4ba5"/>
<circle cx="457.69" cy="381.71" r="2" fill="#0a4ba5"/>
<circle cx="463.57" cy="378.92" r="2" fill="#0a4ba5"/>
<circle cx="469.45" cy="376.43" r="2" fill="#0a4ba5"/>
<circle cx="475.33" cy="373.95" r="2" fill="#0a4ba5"/>
<circle cx="481.21" cy="371.47" r="2" fill="#0a4ba5"/>
<circle cx="487.09" cy="368.67" r="2" fill="#0a4ba5"/>
<circle cx="492.97" cy="366.19" r="2" fill="#0a4ba5"/>
<circle cx="498.85" cy="363.71" r="2" fill="#0a4ba5"/>
<circle cx="504.73" cy="361.22" r="2" fill="#0a4ba5"/>
<circle cx="510.61" cy="358.74" r="2" fill="#0a4ba5"/>
<circle cx="516.48" cy="356.26" r="2" fill="#0a4ba5"/>
<circle cx="522.36" cy="353.77" r="2" fill="#0a4ba5"/>
<circle cx="528.24" cy="351.6" r="2" fill="#0a4ba5"/>
<circle cx="534.12" cy="348.81" r="2" fill="#0a4ba5"/>
<circle cx="540" cy="346.32" r="2" fill="#0a4ba5"/>
<text x="314" y="393.25" class="tk" text-anchor="end">0</text>
<text x="314" y="362.21" class="tk" text-anchor="end">0</text>
<path d="M307.85 362.21 V356.66 M308.15 356.46 L305.95 357.76" fill="none" stroke="#333333" stroke-width="0.95" stroke-linejoin="round"/>
<text x="314" y="331.17" class="tk" text-anchor="end">20</text>
<text x="314" y="300.13" class="tk" text-anchor="end">30</text>
<text x="314" y="269.09" class="tk" text-anchor="end">40</text>
<text x="314" y="238.05" class="tk" text-anchor="end">50</text>
<text x="334.24" y="400.4" class="tk" text-anchor="middle">-0.8</text>
<text x="357.75" y="400.4" class="tk" text-anchor="middle">-0.6</text>
<text x="381.27" y="400.4" class="tk" text-anchor="middle">-0.4</text>
<text x="404.78" y="400.4" class="tk" text-anchor="middle">-0.2</text>
<text x="428.3" y="400.4" class="tk" text-anchor="middle">0</text>
<text x="451.82" y="400.4" class="tk" text-anchor="middle">0.2</text>
<text x="475.33" y="400.4" class="tk" text-anchor="middle">0.4</text>
<text x="498.85" y="400.4" class="tk" text-anchor="middle">0.6</text>
<text x="522.36" y="400.4" class="tk" text-anchor="middle">0.8</text>
<text x="428.3" y="410.9" class="lb" text-anchor="middle">Correlation</text>
<text class="lb" text-anchor="middle" style="font-size:9.6px" transform="translate(303.7,312.8) rotate(-90) scale(1,1.1)">%</text>
<text class="cap" text-anchor="middle" transform="translate(422.9,431.6) scale(1.14,1)">(d) DGP(4)</text>
<rect x="64" y="465.4" width="15.2" height="8.6" fill="#c9e1c1"/>
<rect x="222" y="465.6" width="15" height="8.5" fill="#c4e0ee"/>
<text x="80.87" y="473.7" style="font-family:'Liberation Serif',serif;font-size:15.5px;fill:#1e1e1e;stroke:#1e1e1e;stroke-width:0.25px">&#x3d2;</text>
<text x="92.2" y="467.2" style="font-family:'Liberation Sans',sans-serif;font-size:10.5px;fill:#1e1e1e;letter-spacing:0.35px;stroke:#1e1e1e;stroke-width:0.2px">i,j</text>
<text x="91.57" y="481.8" style="font-family:'Liberation Sans',sans-serif;font-size:10.5px;fill:#1e1e1e;stroke:#1e1e1e;stroke-width:0.4px">2</text>
<path d="M103.2 478.3H112.9 M110.6 476.1L113.2 478.3L110.6 480.5" fill="none" stroke="#1e1e1e" stroke-width="0.75"/>
<path d="M121.05 481.8 V474.85 M121.4 474.55 L118.65 476.15" fill="none" stroke="#1e1e1e" stroke-width="1.3" stroke-linejoin="round"/>
<text x="132.46" y="474.7" style="font-family:'Liberation Sans',sans-serif;font-size:15px;fill:#1e1e1e;stroke:#1e1e1e;stroke-width:0.3px">&gt;</text>
<text x="150.07" y="473.7" style="font-family:'Liberation Serif',serif;font-size:15.5px;fill:#1e1e1e;stroke:#1e1e1e;stroke-width:0.25px">&#x3d2;</text>
<text x="161.3" y="467.2" style="font-family:'Liberation Sans',sans-serif;font-size:10.5px;fill:#1e1e1e;letter-spacing:0.35px;stroke:#1e1e1e;stroke-width:0.2px">i,j</text>
<path d="M165.55 481.8 V474.85 M165.9 474.55 L163.15 476.15" fill="none" stroke="#1e1e1e" stroke-width="1.3" stroke-linejoin="round"/>
<path d="M172.2 478.3H182.1 M179.8 476.1L182.4 478.3L179.8 480.5" fill="none" stroke="#1e1e1e" stroke-width="0.75"/>
<text x="185.88" y="481.8" style="font-family:'Liberation Sans',sans-serif;font-size:10.5px;fill:#1e1e1e;stroke:#1e1e1e;stroke-width:0.4px">2</text>
<text x="238.97" y="473.7" style="font-family:'Liberation Serif',serif;font-size:15.5px;fill:#1e1e1e;stroke:#1e1e1e;stroke-width:0.25px">&#x3d2;</text>
<text x="250.1" y="467.2" style="font-family:'Liberation Sans',sans-serif;font-size:10.5px;fill:#1e1e1e;letter-spacing:0.35px;stroke:#1e1e1e;stroke-width:0.2px">i,j</text>
<path d="M254.25 481.8 V474.85 M254.6 474.55 L251.85 476.15" fill="none" stroke="#1e1e1e" stroke-width="1.3" stroke-linejoin="round"/>
<path d="M261.3 478.3H271.1 M268.8 476.1L271.4 478.3L268.8 480.5" fill="none" stroke="#1e1e1e" stroke-width="0.75"/>
<text x="274.78" y="481.8" style="font-family:'Liberation Sans',sans-serif;font-size:10.5px;fill:#1e1e1e;stroke:#1e1e1e;stroke-width:0.4px">2</text>
<text x="290.46" y="474.7" style="font-family:'Liberation Sans',sans-serif;font-size:15px;fill:#1e1e1e;stroke:#1e1e1e;stroke-width:0.3px">&gt;</text>
<text x="308.27" y="473.7" style="font-family:'Liberation Serif',serif;font-size:15.5px;fill:#1e1e1e;stroke:#1e1e1e;stroke-width:0.25px">&#x3d2;</text>
<text x="319.7" y="467.2" style="font-family:'Liberation Sans',sans-serif;font-size:10.5px;fill:#1e1e1e;letter-spacing:0.35px;stroke:#1e1e1e;stroke-width:0.2px">i,j</text>
<text x="319.28" y="481.8" style="font-family:'Liberation Sans',sans-serif;font-size:10.5px;fill:#1e1e1e;stroke:#1e1e1e;stroke-width:0.4px">2</text>
<path d="M330.6 478.3H340.1 M337.8 476.1L340.4 478.3L337.8 480.5" fill="none" stroke="#1e1e1e" stroke-width="0.75"/>
<path d="M348.05 481.8 V474.85 M348.4 474.55 L345.65 476.15" fill="none" stroke="#1e1e1e" stroke-width="1.3" stroke-linejoin="round"/>
<circle cx="387.9" cy="470" r="1.3" fill="#00692d"/>
<circle cx="446.4" cy="470" r="1.3" fill="#0a4ba5"/>
<path d="M396.9 467.5 C397.4 466.4 398.3 465.8 399.6 465.8 L404.5 465.6" fill="none" stroke="#1e1e1e" stroke-width="1.05" stroke-linecap="round"/>
<path d="M401.1 465.9 L399.75 470.9 C399.6 471.5 399.9 471.7 400.4 471.4" fill="none" stroke="#1e1e1e" stroke-width="1.15" stroke-linecap="round"/>
<text x="402.68" y="479.2" style="font-family:'Liberation Sans',sans-serif;font-size:10.5px;fill:#1e1e1e;stroke:#1e1e1e;stroke-width:0.4px">2</text>
<path d="M413.8 476H424.1 M421.8 473.8L424.4 476L421.8 478.2" fill="none" stroke="#1e1e1e" stroke-width="0.75"/>
<path d="M431.85 479.2 V472.25 M432.2 471.95 L429.45 473.55" fill="none" stroke="#1e1e1e" stroke-width="1.3" stroke-linejoin="round"/>
<path d="M455.9 467.5 C456.4 466.4 457.3 465.8 458.6 465.8 L463.5 465.6" fill="none" stroke="#1e1e1e" stroke-width="1.05" stroke-linecap="round"/>
<path d="M460.1 465.9 L458.75 470.9 C458.6 471.5 458.9 471.7 459.4 471.4" fill="none" stroke="#1e1e1e" stroke-width="1.15" stroke-linecap="round"/>
<path d="M465.45 479.2 V472.25 M465.8 471.95 L463.05 473.55" fill="none" stroke="#1e1e1e" stroke-width="1.3" stroke-linejoin="round"/>
<path d="M472.8 476H483 M480.7 473.8L483.3 476L480.7 478.2" fill="none" stroke="#1e1e1e" stroke-width="0.75"/>
<text x="486.58" y="479.2" style="font-family:'Liberation Sans',sans-serif;font-size:10.5px;fill:#1e1e1e;stroke:#1e1e1e;stroke-width:0.4px">2</text>

</svg>
</body></html>
